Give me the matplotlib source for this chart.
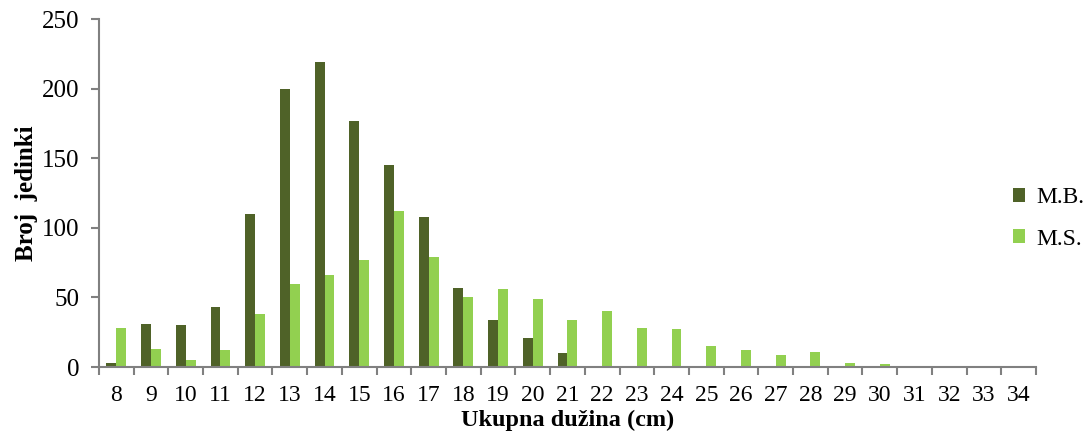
import matplotlib

matplotlib.use("Agg")
import matplotlib.pyplot as plt
import numpy as np

# length classes (cm) and counts per site
lengths = [str(v) for v in range(8, 35)]
mb = [3, 31, 30, 43, 110, 200, 219, 177, 145, 108, 57, 34, 21, 10,
      0, 0, 0, 0, 0, 0, 0, 0, 0, 0, 0, 0, 0]
ms = [28, 13, 5, 12, 38, 60, 66, 77, 112, 79, 50, 56, 49, 34,
      40, 28, 27, 15, 12, 9, 11, 3, 2, 0, 0, 0, 0]

plt.rcParams["font.family"] = ["Liberation Serif", "DejaVu Serif"]

fig = plt.figure(figsize=(10.91, 4.37), dpi=100)
ax = fig.add_axes([0.0907, 0.160, 0.8589, 0.7965])

x = np.arange(len(lengths))
w = 0.285
ax.bar(x - w / 2, mb, width=w, color="#4F6228", label="M.B.")
ax.bar(x + w / 2, ms, width=w, color="#92D050", label="M.S.")

ax.set_xlim(-0.5, len(lengths) - 0.5)
ax.set_ylim(0, 250)
ax.set_yticks(range(0, 251, 50))

# tick marks between categories, labels in the middle
ax.set_xticks(np.arange(-0.5, len(lengths), 1.0))
ax.set_xticklabels([])
ax.set_xticks(x, minor=True)
ax.set_xticklabels(lengths, minor=True)
ax.tick_params(axis="x", which="major", length=6, color="#808080", width=1.5)
ax.tick_params(axis="x", which="minor", length=0, labelsize=17, pad=13)
ax.tick_params(axis="y", length=6, color="#808080", width=1.5, labelsize=18, pad=8)

for side in ("top", "right"):
    ax.spines[side].set_visible(False)
for side in ("left", "bottom"):
    ax.spines[side].set_color("#808080")
    ax.spines[side].set_linewidth(1.5)

ax.set_xlabel("Ukupna dužina (cm)", fontsize=17.5, fontweight="bold", labelpad=3)
ax.set_ylabel("Broj  jedinki", fontsize=18, fontweight="bold", labelpad=3)

fig.legend(loc="center left", bbox_to_anchor=(0.909, 0.5), frameon=False,
           fontsize=17, handlelength=0.5, handleheight=0.5, handletextpad=0.5,
           labelspacing=0.85)

fig.savefig("out.png", dpi=100)
plt.close(fig)
